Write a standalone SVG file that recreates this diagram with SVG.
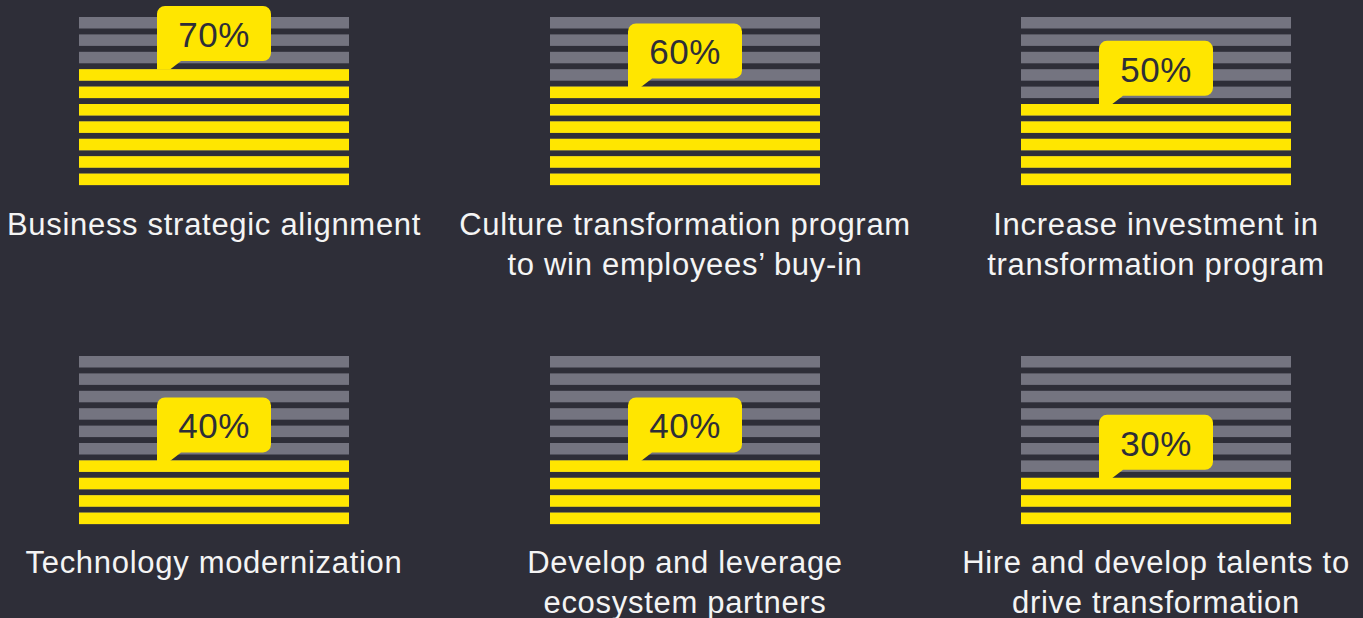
<svg xmlns="http://www.w3.org/2000/svg" width="1363" height="618" viewBox="0 0 1363 618">
<defs>
<style>
.bg{fill:#2e2e38}
.g{fill:#747480}
.y{fill:#ffe600}
.pct{font-family:"Liberation Sans",Arial,sans-serif;font-size:35px;fill:#2e2e38;text-anchor:middle;letter-spacing:0.5px}
.lbl{font-family:"Liberation Sans",Arial,sans-serif;font-size:31px;fill:#f4f4f4;text-anchor:middle;letter-spacing:0.7px}
</style>
<g id="bars10">
<rect x="0" y="0" width="270" height="11.5"/>
<rect x="0" y="17.4" width="270" height="11.5"/>
<rect x="0" y="34.8" width="270" height="11.5"/>
<rect x="0" y="52.2" width="270" height="11.5"/>
<rect x="0" y="69.6" width="270" height="11.5"/>
<rect x="0" y="87" width="270" height="11.5"/>
<rect x="0" y="104.4" width="270" height="11.5"/>
<rect x="0" y="121.8" width="270" height="11.5"/>
<rect x="0" y="139.2" width="270" height="11.5"/>
<rect x="0" y="156.6" width="270" height="11.5"/>
</g>
<path id="bubble" d="M8,0 H106 A8,8 0 0 1 114,8 V47 A8,8 0 0 1 106,55 H24 L13,63.5 H0 V8 A8,8 0 0 1 8,0 Z"/>
</defs>
<rect class="bg" x="0" y="0" width="1363" height="618"/>

<g id="node-business">
<use href="#bars10" class="g" x="79" y="17"/>
<g class="y">
<rect x="79" y="69.2" width="270" height="11.5"/><rect x="79" y="86.6" width="270" height="11.5"/><rect x="79" y="104" width="270" height="11.5"/><rect x="79" y="121.4" width="270" height="11.5"/><rect x="79" y="138.8" width="270" height="11.5"/><rect x="79" y="156.2" width="270" height="11.5"/><rect x="79" y="173.6" width="270" height="11.5"/>
</g>
<use href="#bubble" class="y" x="157" y="6"/>
<text class="pct" x="214" y="47">70%</text>
<text class="lbl" x="214" y="235">Business strategic alignment</text>
</g>

<g id="node-culture">
<use href="#bars10" class="g" x="550" y="17"/>
<g class="y">
<rect x="550" y="86.6" width="270" height="11.5"/><rect x="550" y="104" width="270" height="11.5"/><rect x="550" y="121.4" width="270" height="11.5"/><rect x="550" y="138.8" width="270" height="11.5"/><rect x="550" y="156.2" width="270" height="11.5"/><rect x="550" y="173.6" width="270" height="11.5"/>
</g>
<use href="#bubble" class="y" x="628" y="23.4"/>
<text class="pct" x="685" y="64.4">60%</text>
<text class="lbl" x="685" y="235">Culture transformation program</text>
<text class="lbl" x="685" y="275">to win employees’ buy-in</text>
</g>

<g id="node-investment">
<use href="#bars10" class="g" x="1021" y="17"/>
<g class="y">
<rect x="1021" y="104" width="270" height="11.5"/><rect x="1021" y="121.4" width="270" height="11.5"/><rect x="1021" y="138.8" width="270" height="11.5"/><rect x="1021" y="156.2" width="270" height="11.5"/><rect x="1021" y="173.6" width="270" height="11.5"/>
</g>
<use href="#bubble" class="y" x="1099" y="40.8"/>
<text class="pct" x="1156" y="81.8">50%</text>
<text class="lbl" x="1156" y="235">Increase investment in</text>
<text class="lbl" x="1156" y="275">transformation program</text>
</g>

<g id="node-technology">
<use href="#bars10" class="g" x="79" y="356"/>
<g class="y">
<rect x="79" y="460.4" width="270" height="11.5"/><rect x="79" y="477.8" width="270" height="11.5"/><rect x="79" y="495.2" width="270" height="11.5"/><rect x="79" y="512.6" width="270" height="11.5"/>
</g>
<use href="#bubble" class="y" x="157" y="397.4"/>
<text class="pct" x="214" y="438.4">40%</text>
<text class="lbl" x="214" y="573">Technology modernization</text>
</g>

<g id="node-ecosystem">
<use href="#bars10" class="g" x="550" y="356"/>
<g class="y">
<rect x="550" y="460.4" width="270" height="11.5"/><rect x="550" y="477.8" width="270" height="11.5"/><rect x="550" y="495.2" width="270" height="11.5"/><rect x="550" y="512.6" width="270" height="11.5"/>
</g>
<use href="#bubble" class="y" x="628" y="397.4"/>
<text class="pct" x="685" y="438.4">40%</text>
<text class="lbl" x="685" y="573">Develop and leverage</text>
<text class="lbl" x="685" y="613">ecosystem partners</text>
</g>

<g id="node-talents">
<use href="#bars10" class="g" x="1021" y="356"/>
<g class="y">
<rect x="1021" y="477.8" width="270" height="11.5"/><rect x="1021" y="495.2" width="270" height="11.5"/><rect x="1021" y="512.6" width="270" height="11.5"/>
</g>
<use href="#bubble" class="y" x="1099" y="414.8"/>
<text class="pct" x="1156" y="455.8">30%</text>
<text class="lbl" x="1156" y="573">Hire and develop talents to</text>
<text class="lbl" x="1156" y="613">drive transformation</text>
</g>

<g id="connectors"></g>
</svg>
